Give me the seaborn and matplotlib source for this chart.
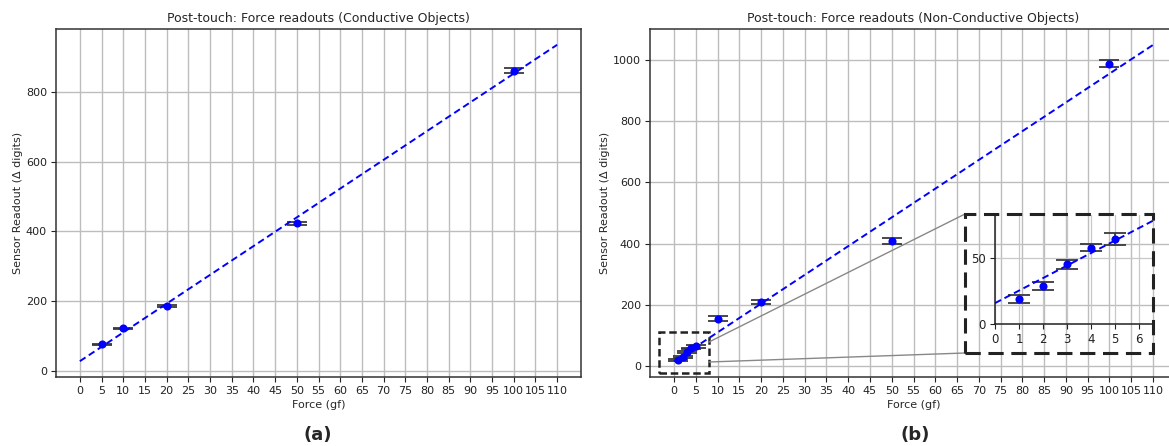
import matplotlib
matplotlib.use("Agg")
import matplotlib.pyplot as plt
from matplotlib.patches import Rectangle, ConnectionPatch
import seaborn as sns
import pandas as pd

# Conductive objects
cond_force = [5, 10, 20, 50, 100]
cond_readout = [77, 122.5, 185.5, 423, 861]
cond_err = [1.5, 1.5, 3, 5, 6]
cond_fit_x = [0, 110]
cond_fit_y = [28.3, 934.7]

# Non-conductive objects
nonc_force = [1, 2, 3, 4, 5, 10, 20, 50, 100]
nonc_readout = [19, 28.6, 45, 57.5, 63.8, 154.5, 210, 408, 988]
nonc_err = [3, 3.2, 3.4, 2.5, 4.6, 8, 6.5, 9, 12.5]
nonc_fit_x = [0, 110]
nonc_fit_y = [15.7, 1049]

x_ticks = list(range(0, 111, 5))
cond_y_ticks = [0, 200, 400, 600, 800]
nonc_y_ticks = [0, 200, 400, 600, 800, 1000]
inset_x_ticks = [0, 1, 2, 3, 4, 5, 6]
inset_y_ticks = [0, 50]

sns.set_style("ticks")
plt.rcParams["font.family"] = ["DejaVu Sans"]
plt.rcParams["xtick.labelsize"] = 8
plt.rcParams["ytick.labelsize"] = 8
plt.rcParams["axes.labelsize"] = 8
plt.rcParams["axes.titlesize"] = 9

BLUE = "#0000ff"
ERR = "#3a3a3a"

fig = plt.figure(figsize=(11.69, 4.46), dpi=100)
W, H = 1169, 446


def px_axes(x0, y0, x1, y1):
    return fig.add_axes([x0 / W, 1 - y1 / H, (x1 - x0) / W, (y1 - y0) / H])


def draw_panel(ax, force, readout, err, fit_x, fit_y, capsize=7.5):
    df = pd.DataFrame({"force": force, "readout": readout})
    fit = pd.DataFrame({"force": fit_x, "readout": fit_y})
    ax.errorbar(force, readout, yerr=err, fmt="none", ecolor=ERR, elinewidth=1.3,
                capsize=capsize, capthick=1.3, zorder=3)
    sns.lineplot(data=fit, x="force", y="readout", ax=ax, color=BLUE,
                 linestyle=(0, (3.5, 2)), linewidth=1.4, zorder=4)
    sns.scatterplot(data=df, x="force", y="readout", ax=ax, color=BLUE, s=34,
                    edgecolor=BLUE, linewidth=0, zorder=5)


ax1 = px_axes(56, 29, 581, 377)
draw_panel(ax1, cond_force, cond_readout, cond_err, cond_fit_x, cond_fit_y)
ax1.set_xlim(-5.5, 115.5)
ax1.set_ylim(-17, 980)
ax1.set_xticks(x_ticks)
ax1.set_yticks(cond_y_ticks)
ax1.set_title("Post-touch: Force readouts (Conductive Objects)", pad=5)

ax2 = px_axes(650, 29, 1177, 377)
draw_panel(ax2, nonc_force, nonc_readout, nonc_err, nonc_fit_x, nonc_fit_y)
ax2.set_xlim(-5.5, 115.5)
ax2.set_ylim(-36, 1101)
ax2.set_xticks(x_ticks)
ax2.set_yticks(nonc_y_ticks)
ax2.set_title("Post-touch: Force readouts (Non-Conductive Objects)", pad=5)

for ax in (ax1, ax2):
    ax.grid(True, color="#bdbdbd", linewidth=1.0)
    ax.set_axisbelow(True)
    ax.set_xlabel("Force (gf)", labelpad=3)
    ax.set_ylabel("Sensor Readout (Δ digits)", labelpad=2)
    ax.tick_params(length=3.5, width=0.8, pad=3, colors="#222222")
    for s in ax.spines.values():
        s.set_color("#333333")
        s.set_linewidth(1.1)

# zoom region on the non-conductive panel
ax2.add_patch(Rectangle((-3.4, -23), 11.4, 134, fill=False, edgecolor="#222222",
                        linewidth=1.8, linestyle=(0, (3, 1.5)), zorder=6))

# inset with the low-force points
axin = px_axes(995, 215, 1153, 324)
axin.set_facecolor("none")
draw_panel(axin, nonc_force, nonc_readout, nonc_err, nonc_fit_x, nonc_fit_y, capsize=8)
axin.set_xlim(0, 6.6)
axin.set_ylim(0, 82)
axin.set_xticks(inset_x_ticks)
axin.set_yticks(inset_y_ticks)
axin.set_xlabel("")
axin.set_ylabel("")
axin.grid(True, color="#c8c8c8", linewidth=0.9)
axin.tick_params(length=3.5, width=0.8, pad=3, colors="#222222", labelsize=8.5)
for side in ("top", "right"):
    axin.spines[side].set_visible(False)
for side in ("left", "bottom"):
    axin.spines[side].set_color("#222222")
    axin.spines[side].set_linewidth(1.1)

# dashed frame around the inset
bx0, by0, bx1, by1 = 965, 214, 1153, 353
fig.add_artist(Rectangle((bx0 / W, 1 - by1 / H), (bx1 - bx0) / W, (by1 - by0) / H,
                         transform=fig.transFigure, fill=False, edgecolor="#222222",
                         linewidth=2.2, linestyle=(0, (5, 2.5)), zorder=10))

# connector lines from the zoom region to the inset frame
for (xa, ya), (xb, yb) in [((8, 78), (bx0 / W, 1 - by0 / H)),
                           ((8, 13), (bx0 / W, 1 - by1 / H))]:
    con = ConnectionPatch(xyA=(xa, ya), coordsA=ax2.transData,
                          xyB=(xb, yb), coordsB=fig.transFigure,
                          color="#888888", linewidth=1.0, zorder=2)
    fig.add_artist(con)

fig.text(318 / W, 1 - 435 / H, "(a)", ha="center", va="center",
         fontsize=13, fontweight="bold")
fig.text(915 / W, 1 - 435 / H, "(b)", ha="center", va="center",
         fontsize=13, fontweight="bold")

fig.savefig("out.png", dpi=100)
